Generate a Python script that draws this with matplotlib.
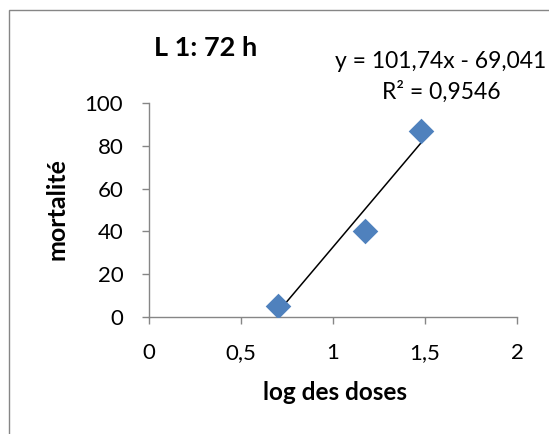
import matplotlib.pyplot as plt
from matplotlib.patches import Rectangle

plt.rcParams['font.family'] = ['Lato', 'DejaVu Sans']

# données
log_doses = [0.699, 1.176, 1.477]
mortalite = [5, 40, 86.7]
pente = 101.74
ordonnee = -69.041
titre = "L 1: 72 h"
equation = "y = 101,74x - 69,041"
r2_txt = "R² = 0,9546"
xticks = [0, 0.5, 1, 1.5, 2]
xtick_labels = ["0", "0,5", "1", "1,5", "2"]
yticks = [0, 20, 40, 60, 80, 100]

GRIS = '#868686'
BLEU = '#4F81BD'

fig = plt.figure(figsize=(5.49, 4.34), dpi=100)
# cadre du graphique (coupé à droite et en bas)
fig.patches.append(Rectangle((9/549, -0.1), 1.0, 1 - 10.5/434 + 0.1, transform=fig.transFigure,
                             fill=False, edgecolor=GRIS, linewidth=1.0))

ax = fig.add_axes([149/549, 1 - 317/434, (517 - 149)/549, (317 - 103)/434])
ax.scatter(log_doses, mortalite, marker='D', s=170, color=BLEU, zorder=3, linewidths=0)

xs = [min(log_doses), max(log_doses)]
ax.plot(xs, [pente * x + ordonnee for x in xs], color='black', linewidth=1.1, zorder=2)

ax.set_xlim(0, 2)
ax.set_ylim(0, 100)
ax.set_xticks(xticks)
ax.set_xticklabels(xtick_labels)
ax.set_yticks(yticks)
for s in ['top', 'right']:
    ax.spines[s].set_visible(False)
for s in ['left', 'bottom']:
    ax.spines[s].set_color(GRIS)
    ax.spines[s].set_linewidth(1.0)
ax.tick_params(colors=GRIS, labelcolor='black', labelsize=16, length=5, width=1.0)
ax.tick_params(axis='x', pad=14)
ax.tick_params(axis='y', pad=13.5)

ax.set_xlabel("log des doses", fontsize=17.5, fontweight='bold', va='center', ha='center')
ax.xaxis.set_label_coords((335 - 149) / 368, (317 - 393) / 214)
ax.set_ylabel("mortalité", fontsize=18, fontweight='bold', va='center', ha='center')
ax.yaxis.set_label_coords((57 - 149) / 368, (317 - 209) / 214)

fig.text(206/549, 1 - 48/434, titre, fontsize=19.5, fontweight='bold', ha='center', va='center')
fig.text(441/549, 1 - 61/434, equation, fontsize=16.5, ha='center', va='center')
fig.text(441/549, 1 - 92/434, r2_txt, fontsize=16.5, ha='center', va='center')

fig.savefig('out.png', dpi=100)
